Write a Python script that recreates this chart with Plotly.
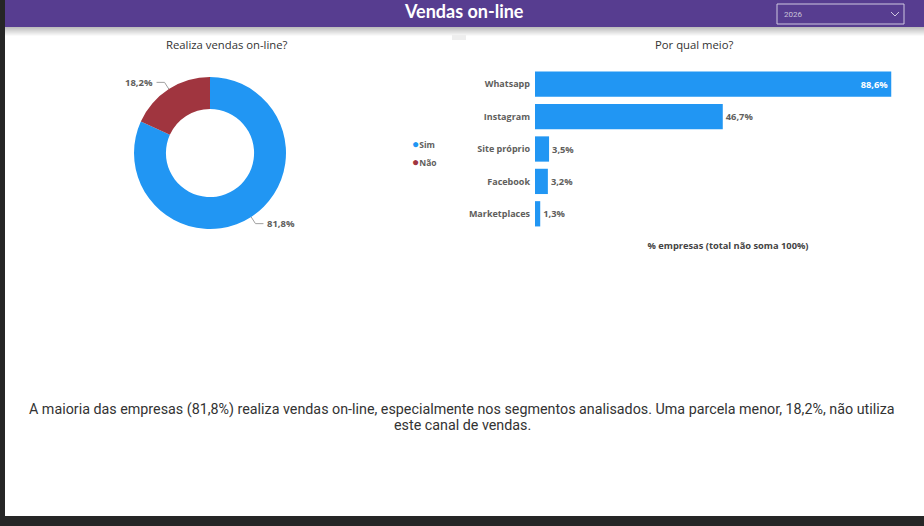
import math
import plotly.graph_objects as go

W, H = 924, 526

# data
donut_labels = ['Sim', 'Não']
donut_values = [81.8, 18.2]
donut_colors = ['#2196F3', '#A0353F']

channels = ['Whatsapp', 'Instagram', 'Site próprio', 'Facebook', 'Marketplaces']
channel_values = [88.6, 46.7, 3.5, 3.2, 1.3]

page_title = 'Vendas on-line'
year = '2026'
summary_lines = ['A maioria das empresas (81,8%) realiza vendas on-line, especialmente nos segmentos '
                 'analisados. Uma parcela menor, 18,2%, não utiliza',
                 'este canal de vendas.']

GREY = '#605E5C'
PURPLE = '#573D90'


def px(x):
    '''pixel x -> paper x'''
    return x / W


def py(y):
    '''pixel y (from top) -> paper y'''
    return 1 - y / H


# donut geometry (pixels)
cx, cy, R = 210, 153, 76

fig = go.Figure()

fig.add_trace(go.Pie(
    labels=donut_labels, values=donut_values, hole=0.58, sort=False,
    direction='clockwise', rotation=0,
    marker=dict(colors=donut_colors, line=dict(width=0)),
    textinfo='none', hoverinfo='label+percent', showlegend=False,
    domain=dict(x=[px(cx - R), px(cx + R)], y=[py(cy + R), py(cy - R)]),
))

fig.add_trace(go.Bar(
    y=channels, x=channel_values, orientation='h',
    marker=dict(color='#2196F3', line=dict(width=0)),
    texttemplate='<b>%{x:.1f}%</b>',
    textposition=['inside', 'outside', 'outside', 'outside', 'outside'],
    insidetextanchor='end', textangle=0, cliponaxis=False,
    insidetextfont=dict(color='white', size=9.3, family='Open Sans'),
    outsidetextfont=dict(color=GREY, size=9.3, family='Open Sans'),
    showlegend=False, xaxis='x', yaxis='y',
))

shapes = []
annotations = []

# page background pieces
shapes.append(dict(type='rect', xref='paper', yref='paper', x0=px(5), x1=1, y0=py(516), y1=py(27),
                   fillcolor='white', line=dict(width=0), layer='below'))
shapes.append(dict(type='rect', xref='paper', yref='paper', x0=px(5), x1=1, y0=py(27), y1=1,
                   fillcolor=PURPLE, line=dict(width=0), layer='below'))
# header shadow
for i in range(9):
    g = int(190 + i * 7.5)
    shapes.append(dict(type='rect', xref='paper', yref='paper', x0=px(5), x1=1,
                       y0=py(28 + i), y1=py(27 + i),
                       fillcolor=f'rgb({g},{g},{g})', line=dict(width=0), layer='below'))
shapes.append(dict(type='rect', xref='paper', yref='paper', x0=px(452), x1=px(466),
                   y0=py(40), y1=py(35), fillcolor='#eeeeee', line=dict(width=0), layer='below'))

# year dropdown
shapes.append(dict(type='rect', xref='paper', yref='paper', x0=px(777), x1=px(904),
                   y0=py(24), y1=py(4), line=dict(color='#cfc8e0', width=1)))
shapes.append(dict(type='path', xref='paper', yref='paper',
                   path=f'M {px(891)} {py(12)} L {px(895)} {py(16)} L {px(899)} {py(12)}',
                   line=dict(color='#cfc8e0', width=1)))
annotations.append(dict(x=px(782), y=py(15), xref='paper', yref='paper', text=year,
                        showarrow=False, xanchor='left', yanchor='middle',
                        font=dict(size=8, color='#c9c3d9', family='Roboto')))

# title
annotations.append(dict(x=px(464), y=py(11), xref='paper', yref='paper', text=f'<b>{page_title}</b>',
                        showarrow=False, xanchor='center', yanchor='middle',
                        font=dict(size=18, color='white', family='Lato')))

# chart titles
for txt, x in [('Realiza vendas on-line?', 227), ('Por qual meio?', 694)]:
    annotations.append(dict(x=px(x), y=py(44), xref='paper', yref='paper', text=txt,
                            showarrow=False, xanchor='center', yanchor='middle',
                            font=dict(size=11.3, color='#333333', family='Open Sans')))

# donut labels with leader lines
start = 0.0
total = sum(donut_values)
for lab, val in zip(donut_labels, donut_values):
    mid = (start + val / 2) / total * 2 * math.pi
    start += val
    dx, dy = math.sin(mid), -math.cos(mid)
    x1, y1 = cx + R * dx, cy + R * dy
    x2, y2 = cx + (R + 8) * dx, cy + (R + 8) * dy
    side = 1 if dx >= 0 else -1
    x3 = x2 + side * 8
    shapes.append(dict(type='path', xref='paper', yref='paper',
                       path=f'M {px(x1)} {py(y1)} L {px(x2)} {py(y2)} L {px(x3)} {py(y2)}',
                       line=dict(color='#a0a0a0', width=1)))
    annotations.append(dict(x=px(x3 + side * 2), y=py(y2), xref='paper', yref='paper',
                            text=f'<b>{val:.1f}%</b>'.replace('.', ','), showarrow=False,
                            xanchor='left' if side > 0 else 'right', yanchor='middle',
                            font=dict(size=9.5, color=GREY, family='Open Sans')))

# donut legend
for i, (lab, col) in enumerate(zip(donut_labels, donut_colors)):
    annotations.append(dict(x=px(410), y=py(143 + i * 18), xref='paper', yref='paper',
                            text=f'<span style="color:{col};font-size:12px">●</span><b>{lab}</b>',
                            showarrow=False, xanchor='left', yanchor='middle',
                            font=dict(size=8.5, color=GREY, family='Open Sans')))

# summary text
for i, line in enumerate(summary_lines):
    annotations.append(dict(x=px(462), y=py(409 + i * 16), xref='paper', yref='paper', text=line,
                            showarrow=False, xanchor='center', yanchor='middle', align='center',
                            font=dict(size=14.3, color='#333333', family='Roboto')))

fig.update_layout(
    width=W, height=H,
    margin=dict(l=0, r=0, t=0, b=0),
    paper_bgcolor='#262626',
    plot_bgcolor='rgba(0,0,0,0)',
    separators=',.',
    bargap=0.22,
    xaxis=dict(domain=[px(535), px(921)], range=[0, 96], showgrid=False, zeroline=False,
               showticklabels=False, showline=False, fixedrange=True,
               title=dict(text='<b>% empresas (total não soma 100%)</b>', standoff=12,
                          font=dict(size=9.3, color='#444444', family='Open Sans'))),
    yaxis=dict(domain=[py(230), py(68)], autorange='reversed', showgrid=False,
               zeroline=False, showline=False, ticks='', ticklabelstandoff=4,
               tickfont=dict(size=9, color=GREY, family='Open Sans'),
               tickvals=channels, ticktext=[f'<b>{c}</b>' for c in channels]),
    shapes=shapes,
    annotations=annotations,
)

fig.write_html('out.html', config={'displayModeBar': False},
               post_script="document.body.style.margin='0';")
